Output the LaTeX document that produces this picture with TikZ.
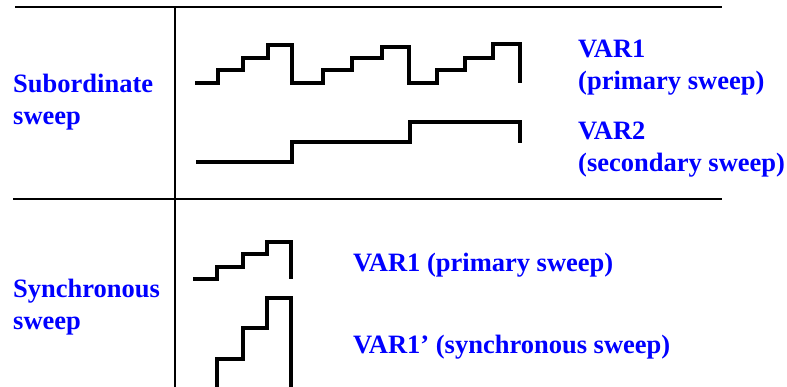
\documentclass[tikz,border=0pt]{standalone}
\usepackage{fontspec}
\setmainfont{Liberation Serif}
\definecolor{labelblue}{RGB}{0,0,255}
\begin{document}
\begin{tikzpicture}[x=1pt,y=-1pt,
  rule/.style={draw=black,line width=2pt},
  wave/.style={draw=black,line width=3.2pt,line join=miter},
  lbl/.style={anchor=base west,inner sep=0pt,text=labelblue,font=\fontsize{26.5}{31}\selectfont\bfseries}]
\useasboundingbox (0,0) rectangle (787,387);
\clip (0,0) rectangle (787,387);
% table rules
\coordinate (tl) at (15,7);
\coordinate (tr) at (722,7);
\coordinate (ml) at (13,199);
\coordinate (mr) at (722,199);
\coordinate (vt) at (174.5,7);
\coordinate (vb) at (174.5,390);
\draw[rule] (tl) -- (tr);
\draw[rule] (ml) -- (mr);
\draw[rule] (vt) -- (vb);
% left labels
\node[lbl] (sub1) at (13,93) {Subordinate};
\node[lbl] (sub2) at (13,125) {sweep};
\node[lbl] (syn1) at (13,298) {Synchronous};
\node[lbl] (syn2) at (13,330) {sweep};
% right labels
\node[lbl] (v1a) at (578,58) {VAR1};
\node[lbl] (v1b) at (578,90) {(primary sweep)};
\node[lbl] (v2a) at (578,140) {VAR2};
\node[lbl] (v2b) at (578,172) {(secondary sweep)};
\node[lbl] (b1) at (353,272) {VAR1 (primary sweep)};
\node[lbl] (b2) at (353,353) {VAR1’ (synchronous sweep)};
% subordinate sweep waveforms
\draw[wave] (195,83) -- (218,83) -- (218,70) -- (243,70) -- (243,58) -- (268,58) -- (268,45) -- (292,45) -- (292,83)
  -- (323,83) -- (323,70) -- (352,70) -- (352,58) -- (382,58) -- (382,47) -- (409,47) -- (409,83)
  -- (437,83) -- (437,70) -- (465,70) -- (465,58) -- (493,58) -- (493,44) -- (520,44) -- (520,83);
\draw[wave] (196,162) -- (292,162) -- (292,142) -- (410,142) -- (410,122) -- (520,122) -- (520,143);
% synchronous sweep waveforms
\draw[wave] (193,279) -- (217,279) -- (217,267) -- (243,267) -- (243,254) -- (267,254) -- (267,242) -- (291,242) -- (291,279);
\draw[wave] (217,390) -- (217,359) -- (243,359) -- (243,328) -- (267,328) -- (267,298) -- (291,298) -- (291,390);
\end{tikzpicture}
\end{document}
